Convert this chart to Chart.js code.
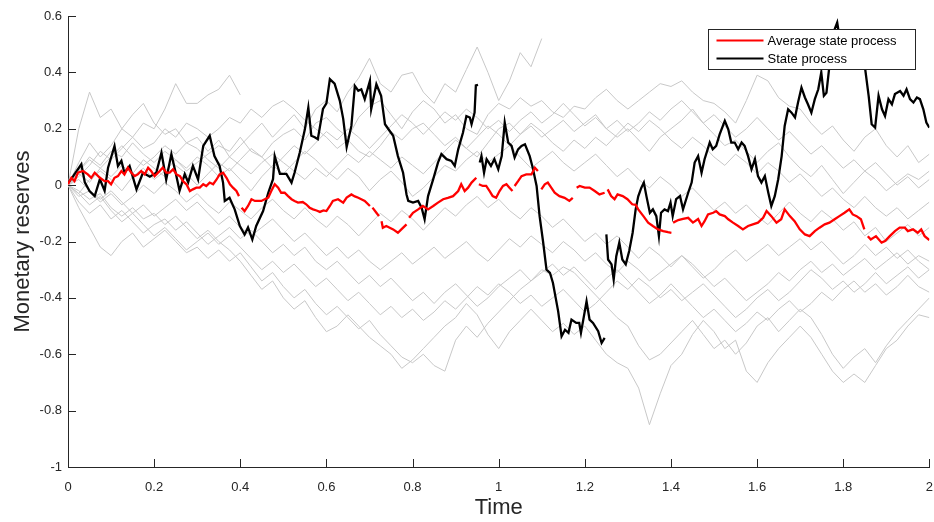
<!DOCTYPE html>
<html>
<head>
<meta charset="utf-8">
<title>Monetary reserves</title>
<script src="https://cdn.jsdelivr.net/npm/chart.js@4.4.1/dist/chart.umd.min.js"></script>
<style>
  html, body { margin: 0; padding: 0; background: #fff; }
  canvas { display: block; }
</style>
</head>
<body>
<canvas id="chart" width="934" height="522"></canvas>
<script>
const seriesNames = ['Average state process', 'State process'];
const xTickLabels = ['0','0.2','0.4','0.6','0.8','1','1.2','1.4','1.6','1.8','2'];
const yTickLabels = ['-1','-0.8','-0.6','-0.4','-0.2','0','0.2','0.4','0.6'];

/* state process (black), null = break between pieces */
const blackT = [0,0.012,0.031,0.039,0.05,0.062,0.074,0.085,0.093,0.108,0.116,0.124,0.131,0.143,0.159,0.174,0.19,0.205,0.217,0.228,
  0.24,0.25,0.259,0.271,0.279,0.29,0.302,0.314,0.329,0.34,0.352,0.36,0.364,0.375,0.387,0.399,0.41,0.418,0.428,0.437,
  0.453,0.465,0.476,0.48,0.492,0.507,0.519,0.526,0.538,0.55,0.558,0.565,0.573,0.58,0.592,0.6,0.608,0.619,0.631,0.639,
  0.647,0.658,0.666,0.674,0.681,0.689,0.701,0.704,0.716,0.727,0.736,0.747,0.755,0.766,0.778,0.786,0.79,0.801,0.813,0.821,
  0.828,0.836,0.848,0.859,0.867,0.879,0.89,0.898,0.906,0.917,0.925,0.933,0.937,0.944,0.947,0.952,0.954,
  0.956,0.96,0.966,0.972,0.982,0.99,0.999,1.007,1.014,1.022,1.03,1.037,1.045,1.053,1.061,1.072,1.079,1.088,1.095,1.103,
  1.111,1.119,1.126,1.138,1.146,1.154,1.162,1.169,1.18,1.187,1.191,1.204,1.211,1.219,1.231,1.239,1.246,1.248,
  1.25,1.254,1.262,1.267,1.273,1.28,1.287,1.295,1.303,1.311,1.318,1.324,1.331,1.337,1.343,1.351,1.358,1.366,1.372,1.377,
  1.385,1.393,1.399,1.404,1.412,1.421,1.428,1.44,1.448,1.455,1.463,1.471,1.478,1.49,1.497,1.505,1.513,1.525,1.533,1.54,
  1.548,1.556,1.564,1.571,1.579,1.587,1.595,1.602,1.61,1.618,1.626,1.633,1.641,1.649,1.657,1.664,1.672,1.68,1.688,1.695,
  1.703,1.711,1.718,1.726,1.734,1.742,1.749,1.755,1.761,1.767,1.773,1.78,1.786,1.792,1.8,1.807,1.819,1.83,1.843,1.851,
  1.859,1.866,1.874,1.882,1.89,1.897,1.905,1.913,1.92,1.932,1.94,1.947,1.955,1.963,1.971,1.978,1.986,1.993,2.0];
const blackV = [0.007,0.032,0.074,0.01,-0.021,-0.039,0.021,-0.02,0.062,0.139,0.068,0.086,0.044,0.068,-0.015,0.044,0.03,0.044,0.115,0.02,
  0.11,0.044,-0.02,0.039,0.01,0.068,0.02,0.139,0.175,0.103,0.068,0.009,-0.056,-0.045,-0.086,-0.145,-0.175,-0.15,-0.193,-0.145,
  -0.092,-0.027,0.021,0.103,0.04,0.04,0.009,0.044,0.115,0.198,0.275,0.175,0.17,0.163,0.27,0.29,0.376,0.36,0.3,0.235,
  0.135,0.21,0.352,0.335,0.34,0.305,0.37,0.27,0.358,0.317,0.216,0.192,0.175,0.103,0.044,-0.033,-0.056,-0.062,-0.056,-0.08,
  -0.121,-0.039,0.021,0.08,0.11,0.092,0.086,0.068,0.127,0.186,0.245,0.24,0.216,0.257,0.354,0.356,null,
  0.08,0.103,0.044,0.092,0.068,0.092,0.056,0.103,0.222,0.151,0.139,0.098,0.127,0.139,0.145,0.103,0.062,-0.003,-0.11,-0.2,
  -0.3,-0.311,-0.347,-0.447,-0.536,-0.513,-0.524,-0.477,-0.489,-0.489,-0.524,-0.412,-0.477,-0.489,-0.518,-0.56,-0.542,null,
  -0.175,-0.264,-0.281,-0.335,-0.252,-0.204,-0.264,-0.281,-0.234,-0.169,-0.086,-0.04,-0.01,0.009,-0.039,-0.098,-0.086,-0.11,-0.181,-0.098,
  -0.086,-0.092,-0.062,-0.11,-0.05,-0.039,-0.086,-0.027,0.009,0.08,0.103,0.044,0.092,0.151,0.127,0.139,0.18,0.228,0.198,0.151,
  0.151,0.127,0.151,0.139,0.103,0.056,0.092,0.032,0.009,0.032,-0.027,-0.074,-0.039,0.021,0.103,0.21,0.269,0.257,0.24,0.293,
  0.346,0.311,0.287,0.257,0.305,0.34,0.4,0.317,0.328,0.411,0.494,0.553,0.577,0.518,0.506,0.518,0.506,0.506,0.494,0.411,
  0.317,0.216,0.204,0.317,0.269,0.245,0.305,0.287,0.323,0.334,0.317,0.34,0.305,0.293,0.311,0.305,0.269,0.222,0.204];

/* average state process (red) */
const redT = [0,0.008,0.015,0.023,0.035,0.046,0.054,0.062,0.074,0.085,0.093,0.1,0.108,0.116,0.124,0.131,0.139,0.147,0.155,0.162,
  0.17,0.178,0.186,0.193,0.201,0.213,0.22,0.228,0.236,0.244,0.252,0.26,0.267,0.275,0.283,0.29,0.298,0.306,0.314,0.321,
  0.329,0.337,0.345,0.352,0.36,0.368,0.376,0.383,0.391,0.397,0.4,
  0.403,0.41,0.418,0.426,0.434,0.441,0.449,0.457,0.465,0.472,0.48,0.488,0.495,0.503,0.511,0.519,0.526,0.534,0.545,0.553,
  0.561,0.569,0.577,0.585,0.593,0.6,0.608,0.615,0.627,0.639,0.647,0.658,0.666,0.674,0.681,0.689,0.701,0.704,
  0.707,0.716,0.722,0.725,0.728,0.731,0.739,0.747,0.755,0.766,0.774,0.786,0.789,
  0.792,0.801,0.813,0.824,0.836,0.848,0.859,0.871,0.882,0.894,0.906,0.913,0.921,0.929,0.937,0.948,0.951,
  0.954,0.963,0.971,0.979,0.986,0.994,1.002,1.01,1.018,1.025,1.032,1.034,
  1.037,1.045,1.053,1.064,1.076,1.084,1.091,1.095,
  1.099,1.107,1.114,1.122,1.13,1.141,1.153,1.164,1.172,1.176,
  1.181,1.188,1.2,1.211,1.223,1.234,1.246,1.249,
  1.253,1.261,1.269,1.276,1.288,1.299,1.31,1.318,1.324,1.336,1.347,1.358,1.37,1.382,1.393,1.401,1.403,
  1.405,1.417,1.428,1.44,1.451,1.463,1.471,1.478,1.486,1.498,1.505,1.513,1.525,1.533,1.544,1.556,1.567,1.579,1.59,1.602,
  1.614,1.622,1.633,1.645,1.656,1.664,1.676,1.687,1.699,1.711,1.722,1.734,1.745,1.757,1.768,1.78,1.791,1.803,1.814,1.822,
  1.831,1.841,1.849,1.853,
  1.857,1.864,1.876,1.889,1.897,1.908,1.92,1.931,1.943,1.95,1.962,1.973,1.981,1.989,2.0];
const redV = [0.003,0.026,0.014,0.044,0.05,0.038,0.026,0.044,0.026,0.014,0.014,0.003,0.026,0.032,0.05,0.038,0.062,0.044,0.032,0.038,
  0.05,0.038,0.062,0.05,0.032,0.05,0.062,0.044,0.044,0.056,0.038,0.032,0.014,0.003,-0.021,-0.015,-0.009,-0.009,0.003,-0.003,
  0.009,0.003,0.02,0.038,0.044,0.026,0.003,-0.009,-0.021,-0.039,null,
  -0.08,-0.092,-0.074,-0.05,-0.056,-0.056,-0.056,-0.05,-0.044,-0.021,0.003,-0.009,-0.027,-0.027,-0.039,-0.05,-0.056,-0.062,-0.06,-0.068,
  -0.08,-0.086,-0.09,-0.095,-0.09,-0.092,-0.074,-0.056,-0.05,-0.062,-0.044,-0.033,-0.04,-0.045,-0.05,-0.056,-0.074,null,
  -0.08,-0.098,-0.11,null,-0.128,-0.151,-0.145,-0.151,-0.157,-0.169,-0.157,-0.139,null,
  -0.116,-0.098,-0.086,-0.074,-0.086,-0.074,-0.062,-0.05,-0.045,-0.039,-0.021,0.003,-0.021,-0.009,0.009,0.026,null,
  0.003,-0.003,-0.003,-0.021,-0.039,-0.045,-0.021,-0.003,0.003,-0.009,-0.021,null,
  -0.003,0.014,0.032,0.038,0.038,0.062,0.05,null,
  -0.015,0.003,0.009,-0.009,-0.027,-0.039,-0.045,-0.056,-0.045,null,
  -0.009,-0.003,-0.009,-0.009,-0.021,-0.033,-0.027,null,
  -0.015,-0.039,-0.05,-0.033,-0.039,-0.05,-0.068,-0.07,-0.086,-0.11,-0.133,-0.145,-0.157,-0.163,-0.167,-0.169,null,
  -0.133,-0.124,-0.12,-0.116,-0.133,-0.12,-0.145,-0.128,-0.104,-0.098,-0.092,-0.104,-0.11,-0.121,-0.133,-0.145,-0.157,-0.145,-0.139,-0.133,
  -0.116,-0.092,-0.11,-0.133,-0.121,-0.086,-0.11,-0.128,-0.157,-0.175,-0.181,-0.163,-0.151,-0.139,-0.133,-0.121,-0.11,-0.098,-0.086,-0.104,
  -0.11,-0.121,-0.157,null,
  -0.181,-0.193,-0.181,-0.204,-0.198,-0.181,-0.163,-0.151,-0.151,-0.163,-0.157,-0.169,-0.157,-0.181,-0.195];

/* individual sample paths (grey), one value every grayStep */
const grayStep = 0.025;
const grayPaths = [
  [0, 0.08,0.15,0.1,0.14, 0.2,0.17,0.22,0.2, 0.27,0.36,0.29,0.29, 0.32,0.34,0.39,0.32],
  [0, 0.2,0.33,0.24,0.27, 0.2,0.25,0.29,0.22, 0.18,0.2,0.15,0.17, 0.12,0.16,0.1,0.14, 0.18,0.22,0.17,0.21,
   0.25,0.2,0.27,0.3, 0.26,0.33,0.38,0.45, 0.36,0.33,0.39,0.4, 0.33,0.29,0.36,0.33, 0.41,0.49,0.4,0.3,
   0.37,0.47,0.42,0.52],
  [0, 0.05,0.1,0.07,0.12, 0.1,0.15,0.11,0.08, 0.12,0.09,0.05,0.08, 0.11,0.14,0.12,0.17, 0.12,0.1,0.15,0.18,
   0.2,0.16,0.22,0.24, 0.2,0.17,0.24,0.28, 0.3,0.25,0.2,0.26, 0.3,0.27,0.22,0.25, 0.2,0.18,0.25,0.29,
   0.27,0.31,0.28,0.3, 0.26,0.24,0.28,0.27, 0.31,0.34,0.3,0.27, 0.3,0.33,0.36,0.35, 0.37,0.33,0.3,0.29,
   0.26,0.22,0.3,0.39, 0.37,0.31,0.28,0.27, 0.22,0.18,0.21,0.16, 0.12,0.17,0.2,0.14, 0.1,0.14,0.08,0.11],
  [0, 0.03,0.07,0.12,0.09, 0.13,0.17,0.13,0.15, 0.2,0.17,0.22,0.2, 0.17,0.2,0.24,0.22, 0.27,0.24,0.28,0.3,
   0.27,0.23,0.2,0.17, 0.13,0.16,0.12,0.1, 0.14,0.19,0.16,0.2, 0.22,0.18,0.14,0.17, 0.13,0.1,0.15,0.2,
   0.22,0.18,0.21,0.17, 0.2,0.23,0.19,0.22, 0.25,0.2,0.17,0.2, 0.16,0.12,0.17,0.2, 0.23,0.27,0.22,0.18,
   0.14,0.16,0.12,0.08, 0.12,0.15,0.1,0.06, 0.03,0.07,0.02,-0.03, 0.01,0.05,0.02,-0.02, 0.01,0.04,0.02,0.05],
  [0, -0.03,0.02,0.05,0.02, -0.02,0.03,0.06,0.02, 0.05,0.09,0.06,0.1, 0.07,0.03,0.06,0.02, -0.02,0.03,0.07,0.04,
   0.08,0.12,0.09,0.05, 0.02,0.06,0.03,-0.02, 0.02,0.05,0.01,-0.04, -0.01,0.03,0.07,0.05, 0.09,0.12,0.08,0.11,
   0.14,0.1,0.06,0.09, 0.12,0.08,0.05,0.08, 0.11,0.07,0.03,0.06, 0.02,-0.01,0.03,0.0, -0.04,-0.01,-0.05,-0.09,
   -0.06,-0.1,-0.07,-0.11, -0.14,-0.1,-0.06,-0.1, -0.13,-0.09,-0.12,-0.16, -0.13,-0.18,-0.15,-0.2, -0.17,-0.14,-0.18,-0.15],
  [0, -0.04,-0.02,-0.06,-0.03, -0.07,-0.04,0.0,-0.03, 0.01,-0.02,-0.06,-0.03, -0.07,-0.1,-0.06,-0.09, -0.12,-0.08,-0.05,-0.09,
   -0.12,-0.08,-0.12,-0.15, -0.11,-0.14,-0.18,-0.14, -0.1,-0.13,-0.09,-0.12, -0.16,-0.12,-0.08,-0.11, -0.07,-0.04,-0.08,-0.05,
   -0.09,-0.12,-0.08,-0.11, -0.15,-0.12,-0.16,-0.2, -0.17,-0.21,-0.18,-0.22, -0.26,-0.22,-0.25,-0.29, -0.25,-0.28,-0.32,-0.36,
   -0.33,-0.37,-0.41,-0.38, -0.35,-0.31,-0.34,-0.3, -0.27,-0.31,-0.28,-0.32, -0.29,-0.26,-0.3,-0.27, -0.24,-0.28,-0.25,-0.27],
  [0, -0.06,-0.1,-0.07,-0.12, -0.09,-0.13,-0.17,-0.14, -0.12,-0.16,-0.13,-0.17, -0.21,-0.18,-0.15,-0.19, -0.16,-0.2,-0.24,-0.21,
   -0.25,-0.22,-0.27,-0.3, -0.27,-0.31,-0.35,-0.32, -0.36,-0.33,-0.37,-0.41, -0.38,-0.42,-0.38,-0.35, -0.39,-0.43,-0.4,-0.36,
   -0.33,-0.3,-0.34,-0.31, -0.28,-0.32,-0.29,-0.33, -0.37,-0.33,-0.3,-0.34, -0.38,-0.42,-0.39,-0.35, -0.39,-0.43,-0.47,-0.44,
   -0.48,-0.52,-0.49,-0.45, -0.48,-0.44,-0.41,-0.45, -0.42,-0.38,-0.41,-0.37, -0.34,-0.38,-0.35,-0.39, -0.36,-0.32,-0.36,-0.38],
  [0, -0.08,-0.15,-0.22,-0.25, -0.2,-0.17,-0.22,-0.19, -0.16,-0.2,-0.24,-0.22, -0.26,-0.23,-0.27,-0.24, -0.29,-0.34,-0.31,-0.36,
   -0.4,-0.37,-0.42,-0.46, -0.43,-0.47,-0.51,-0.48, -0.53,-0.57,-0.61,-0.63, -0.6,-0.64,-0.66,-0.55, -0.5,-0.54,-0.49,-0.45,
   -0.41,-0.37,-0.34,-0.3, -0.32,-0.29,-0.31,-0.35, -0.39,-0.43,-0.47,-0.5, -0.57,-0.62,-0.6,-0.56, -0.52,-0.48,-0.53,-0.58,
   -0.55,-0.6,-0.56,-0.5, -0.47,-0.52,-0.48,-0.44, -0.47,-0.53,-0.6,-0.65, -0.61,-0.58,-0.63,-0.57, -0.52,-0.48,-0.44,-0.4],
  [0, -0.02,-0.05,-0.03,-0.08, -0.11,-0.08,-0.12,-0.1, -0.14,-0.11,-0.15,-0.19, -0.16,-0.2,-0.23,-0.27, -0.32,-0.37,-0.34,-0.4,
   -0.44,-0.41,-0.47,-0.52, -0.5,-0.46,-0.5,-0.54, -0.57,-0.6,-0.65,-0.62, -0.58,-0.54,-0.5,-0.47, -0.42,-0.46,-0.53,-0.58,
   -0.52,-0.48,-0.44,-0.48, -0.52,-0.49,-0.53,-0.5, -0.55,-0.6,-0.63,-0.65, -0.72,-0.85,-0.74,-0.64, -0.6,-0.53,-0.48,-0.52,
   -0.58,-0.55,-0.66,-0.7, -0.63,-0.58,-0.54,-0.5, -0.54,-0.6,-0.66,-0.7, -0.67,-0.7,-0.64,-0.58, -0.55,-0.5,-0.46,-0.47],
  [0, 0.02,-0.02,-0.05,-0.02, -0.06,-0.1,-0.07,-0.11, -0.08,-0.05,-0.09,-0.06, -0.1,-0.14,-0.11,-0.15, -0.18,-0.15,-0.12,-0.16,
   -0.2,-0.17,-0.21,-0.25, -0.22,-0.26,-0.23,-0.27, -0.3,-0.27,-0.24,-0.28, -0.25,-0.22,-0.26,-0.23, -0.2,-0.24,-0.27,-0.23,
   -0.19,-0.22,-0.18,-0.21, -0.24,-0.2,-0.23,-0.27, -0.24,-0.28,-0.31,-0.27, -0.3,-0.34,-0.31,-0.28, -0.25,-0.29,-0.33,-0.3,
   -0.26,-0.23,-0.27,-0.24, -0.21,-0.25,-0.22,-0.19, -0.23,-0.2,-0.24,-0.28, -0.25,-0.21,-0.25,-0.22, -0.26,-0.23,-0.27,-0.3],
  [0, 0.05,0.09,0.06,0.1, 0.14,0.1,0.07,0.1, 0.14,0.11,0.15,0.13, 0.09,0.06,0.1,0.07, 0.04,0.08,0.11,0.08,
   0.05,0.02,0.06,0.03, 0.07,0.11,0.08,0.12, 0.09,0.06,0.1,0.07, 0.04,0.08,0.12,0.16, 0.13,0.17,0.21,0.18,
   0.14,0.18,0.22,0.19, 0.15,0.12,0.16,0.13, 0.17,0.14,0.18,0.22, 0.19,0.23,0.2,0.16, 0.13,0.17,0.14,0.1,
   0.07,0.11,0.08,0.04, 0.08,0.05,0.01,0.04, 0.0,-0.04,-0.01,-0.05, -0.08,-0.04,-0.08,-0.11, -0.08,-0.12,-0.09,-0.06],
  [0, 0.04,0.01,0.06,0.03, 0.07,0.04,0.09,0.06, 0.03,0.07,0.04,0.0, 0.04,0.08,0.05,0.09, 0.13,0.1,0.06,0.1,
   0.14,0.11,0.15,0.19, 0.16,0.2,0.17,0.13, 0.17,0.21,0.25,0.22, 0.18,0.22,0.26,0.23, 0.27,0.24,0.2,0.23,
   0.19,0.23,0.26,0.22, 0.25,0.29,0.25,0.21, 0.24,0.2,0.23,0.19, 0.22,0.26,0.23,0.27, 0.3,0.26,0.22,0.25,
   0.21,0.17,0.2,0.24, 0.2,0.16,0.19,0.15, 0.11,0.14,0.1,0.06, 0.09,0.05,0.08,0.04, 0.0,0.03,-0.01,0.02],
  [0, -0.03,-0.07,-0.04,-0.09, -0.13,-0.1,-0.14,-0.18, -0.15,-0.19,-0.23,-0.2, -0.17,-0.21,-0.18,-0.22, -0.26,-0.3,-0.27,-0.31,
   -0.28,-0.32,-0.36,-0.33, -0.37,-0.41,-0.38,-0.42, -0.46,-0.43,-0.47,-0.44, -0.48,-0.45,-0.41,-0.44, -0.4,-0.36,-0.39,-0.35,
   -0.38,-0.42,-0.39,-0.43, -0.4,-0.37,-0.41,-0.45, -0.42,-0.38,-0.34,-0.37, -0.33,-0.36,-0.4,-0.37, -0.41,-0.38,-0.35,-0.39,
   -0.43,-0.47,-0.44,-0.4, -0.37,-0.41,-0.38,-0.34, -0.3,-0.33,-0.37,-0.34, -0.38,-0.35,-0.31,-0.35, -0.32,-0.29,-0.33,-0.3]
];

const AXIS_COLOR = '#262626';
const FONT = "'Liberation Sans', Arial, Helvetica, sans-serif";

function pairUp(ts, vs){
  return ts.map((t, i) => ({ x: t, y: vs[i] }));
}

const datasets = grayPaths.map(path => ({
  data: path.map((v, i) => ({ x: i * grayStep, y: v })),
  borderColor: '#c8c8c8',
  borderWidth: 1,
  order: 2
}));
datasets.push({
  label: seriesNames[1],
  data: pairUp(blackT, blackV),
  borderColor: '#000000',
  borderWidth: 2.3,
  order: 1
});
datasets.push({
  label: seriesNames[0],
  data: pairUp(redT, redV),
  borderColor: '#ff0000',
  borderWidth: 2.3,
  order: 0
});

/* inward tick marks, matlab style */
const innerTicks = {
  id: 'innerTicks',
  afterDatasetsDraw(chart){
    const { ctx, chartArea, scales } = chart;
    const len = 8;
    ctx.save();
    ctx.strokeStyle = AXIS_COLOR;
    ctx.lineWidth = 1;
    ctx.beginPath();
    scales.x.ticks.forEach(t => {
      const px = Math.round(scales.x.getPixelForValue(t.value)) + 0.5;
      ctx.moveTo(px, chartArea.bottom);
      ctx.lineTo(px, chartArea.bottom - len);
    });
    scales.y.ticks.forEach(t => {
      const py = Math.round(scales.y.getPixelForValue(t.value)) + 0.5;
      ctx.moveTo(chartArea.left, py);
      ctx.lineTo(chartArea.left + len, py);
    });
    ctx.stroke();
    ctx.restore();
  }
};

/* boxed legend drawn over the lines */
const boxLegend = {
  id: 'boxLegend',
  afterDatasetsDraw(chart){
    const { ctx, chartArea } = chart;
    const colors = ['#ff0000', '#000000'];
    const w = 207, h = 40;
    const x0 = Math.round(chartArea.right - 14 - w) + 0.5;
    const y0 = Math.round(chartArea.top + 13) + 0.5;
    ctx.save();
    ctx.fillStyle = '#ffffff';
    ctx.fillRect(x0, y0, w, h);
    ctx.strokeStyle = AXIS_COLOR;
    ctx.lineWidth = 1;
    ctx.strokeRect(x0, y0, w, h);
    ctx.font = '13px ' + FONT;
    ctx.textBaseline = 'middle';
    ctx.fillStyle = '#000000';
    seriesNames.forEach((name, i) => {
      const yy = y0 + 11 + i * 18;
      ctx.strokeStyle = colors[i];
      ctx.lineWidth = 2;
      ctx.beginPath();
      ctx.moveTo(x0 + 8, yy);
      ctx.lineTo(x0 + 55, yy);
      ctx.stroke();
      ctx.fillText(name, x0 + 59, yy + 1);
    });
    ctx.restore();
  }
};

new Chart(document.getElementById('chart'), {
  type: 'line',
  data: { datasets },
  options: {
    responsive: false,
    devicePixelRatio: 1,
    animation: false,
    events: [],
    layout: { padding: { left: 0, top: 16, right: 4, bottom: 0 } },
    elements: {
      point: { radius: 0 },
      line: { tension: 0, fill: false }
    },
    spanGaps: false,
    plugins: {
      legend: { display: false },
      tooltip: { enabled: false }
    },
    scales: {
      x: {
        type: 'linear',
        min: 0,
        max: 2,
        afterFit(scale){ scale.height = 55; },
        // grid hidden, tickLength only used to push the labels down
        grid: { display: false, drawTicks: true, tickLength: 12 },
        border: { display: true, color: AXIS_COLOR, width: 1 },
        ticks: {
          stepSize: 0.2,
          padding: 1,
          color: AXIS_COLOR,
          font: { family: FONT, size: 13 },
          maxRotation: 0,
          autoSkip: false,
          callback: (v) => xTickLabels[Math.round(v / 0.2)]
        },
        title: {
          display: true,
          text: 'Time',
          color: AXIS_COLOR,
          font: { family: FONT, size: 22 },
          padding: { top: 0, bottom: 1 }
        }
      },
      y: {
        type: 'linear',
        min: -1,
        max: 0.6,
        afterFit(scale){ scale.width = 68; },
        grid: { display: false, drawTicks: false },
        border: { display: true, color: AXIS_COLOR, width: 1 },
        ticks: {
          stepSize: 0.2,
          padding: 6,
          color: AXIS_COLOR,
          font: { family: FONT, size: 13 },
          autoSkip: false,
          callback: (v) => yTickLabels[Math.round((v + 1) / 0.2)]
        },
        title: {
          display: true,
          text: 'Monetary reserves',
          color: AXIS_COLOR,
          font: { family: FONT, size: 22 },
          padding: { top: 10, bottom: 0 }
        }
      }
    }
  },
  plugins: [innerTicks, boxLegend]
});
</script>
</body>
</html>
